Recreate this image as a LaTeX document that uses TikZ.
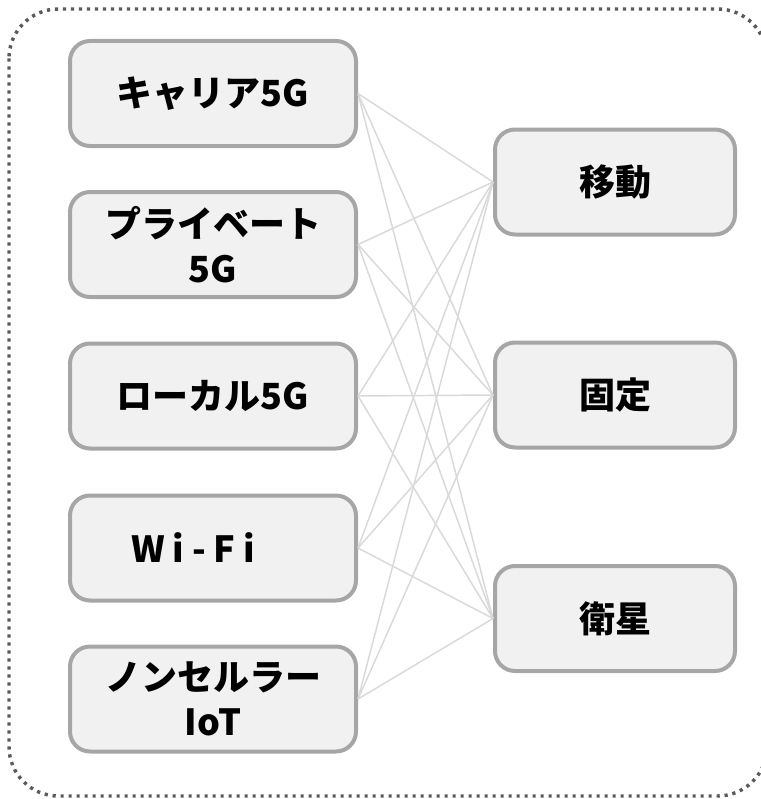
\documentclass[tikz,border=0pt]{standalone}
\usepackage{fontspec}
\newfontfamily\jp{Noto Sans CJK JP}
\definecolor{boxline}{HTML}{A6A6A6}
\definecolor{boxfill}{HTML}{F1F1F1}
\definecolor{conn}{HTML}{D9D9D9}
\definecolor{outer}{HTML}{5A5A5A}
\begin{document}
\begin{tikzpicture}[x=0.75pt,y=-0.75pt,
  box/.style={draw=boxline, fill=boxfill, line width=3pt, rounded corners=15pt,
    inner sep=0pt, align=center, minimum height=78.75pt,
    font=\jp\bfseries\fontsize{27}{34}\selectfont},
  lbox/.style={box, minimum width=214.5pt},
  rbox/.style={box, minimum width=180pt},
  link/.style={draw=conn, line width=1.1pt}]
\useasboundingbox (0,0) rectangle (760,799);
\draw[outer, line width=2.6pt, dash pattern=on 2.4pt off 3.6pt, rounded corners=37pt]
  (9,9) rectangle (767,796);
\node[lbox] (a) at (213,93.5) {キャリア5G};
\node[lbox] (b) at (213,244.5) {プライベート\\5G};
\node[lbox] (c) at (213,396) {ローカル5G};
\node[lbox] (d) at (213,548) {{\addfontfeature{LetterSpace=22}Wi-Fi}\rule{30pt}{0pt}};
\node[lbox] (e) at (213,699) {ノンセルラー\\IoT};
\node[rbox] (m) at (615,182) {移動};
\node[rbox] (f) at (615,395) {固定};
\node[rbox] (s) at (615,618.5) {衛星};
\foreach \l in {a,b,c,d,e}{
  \foreach \r in {m,f,s}{
    \draw[link] (\l.east) -- (\r.west);
  }
}
\end{tikzpicture}
\end{document}
